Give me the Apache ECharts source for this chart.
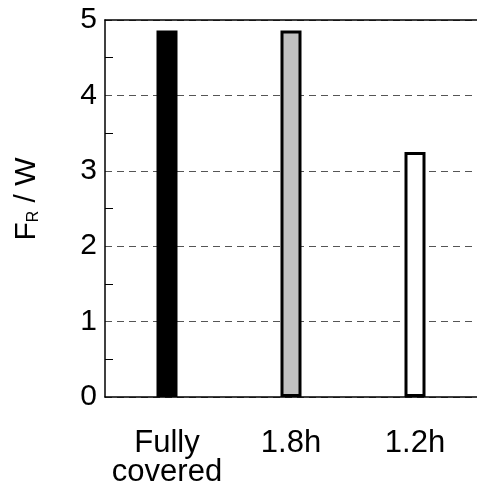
<!DOCTYPE html>
<html>
<head>
<meta charset="utf-8">
<script src="https://cdn.jsdelivr.net/npm/echarts@6/dist/echarts.min.js"></script>
<style>
html,body{margin:0;padding:0;background:#fff;}
#chart{width:477px;height:490px;}
</style>
</head>
<body>
<div id="chart"></div>
<script>
var categories = ['Fully\ncovered', '1.8h', '1.2h'];
var values = [4.86, 4.86, 3.25];
var yTicks = [0, 1, 2, 3, 4, 5];

var fills = ['#000000', '#c0c0c0', '#ffffff'];
var font = 'Liberation Sans, Arial, sans-serif';

var chart = echarts.init(document.getElementById('chart'));
chart.setOption({
  backgroundColor: '#ffffff',
  animation: false,
  grid: {left: 105, top: 20, width: 378, height: 377, containLabel: false},
  xAxis: [{
    type: 'category',
    data: categories,
    boundaryGap: true,
    axisLine: {show: true, lineStyle: {color: '#000', width: 1.5}},
    axisTick: {show: false},
    axisLabel: {fontFamily: font, fontSize: 31, lineHeight: 29, color: '#000', margin: 32, interval: 0}
  }, {
    type: 'category',
    data: categories,
    position: 'top',
    axisLine: {show: true, lineStyle: {color: '#000', width: 1.5}},
    axisTick: {show: false},
    axisLabel: {show: false}
  }],
  yAxis: {
    type: 'value',
    min: yTicks[0],
    max: yTicks[yTicks.length - 1],
    interval: 1,
    name: '{n|F}{s|R}{n| / W}',
    nameLocation: 'middle',
    nameGap: 63,
    nameRotate: 90,
    nameTextStyle: {
      padding: [0, 0, 0, 19],
      rich: {
        n: {fontFamily: font, fontSize: 30, lineHeight: 30, color: '#000', verticalAlign: 'bottom'},
        s: {fontFamily: font, fontSize: 16, lineHeight: 16, color: '#000', verticalAlign: 'bottom'}
      }
    },
    axisLine: {show: true, lineStyle: {color: '#000', width: 1.5}},
    axisTick: {show: false, inside: true},
    minorTick: {show: true, splitNumber: 2, length: 8, lineStyle: {color: '#000', width: 1}},
    axisLabel: {fontFamily: font, fontSize: 30, color: '#000', margin: 8},
    splitLine: {show: true, lineStyle: {color: '#555', type: [7, 5], width: 1}}
  },
  series: [{
    type: 'bar',
    data: values.map(function (v, i) {
      return {value: v, itemStyle: {color: fills[i]}};
    }),
    barWidth: 21,
    itemStyle: {borderColor: '#000', borderWidth: 3}
  }]
});
</script>
</body>
</html>
